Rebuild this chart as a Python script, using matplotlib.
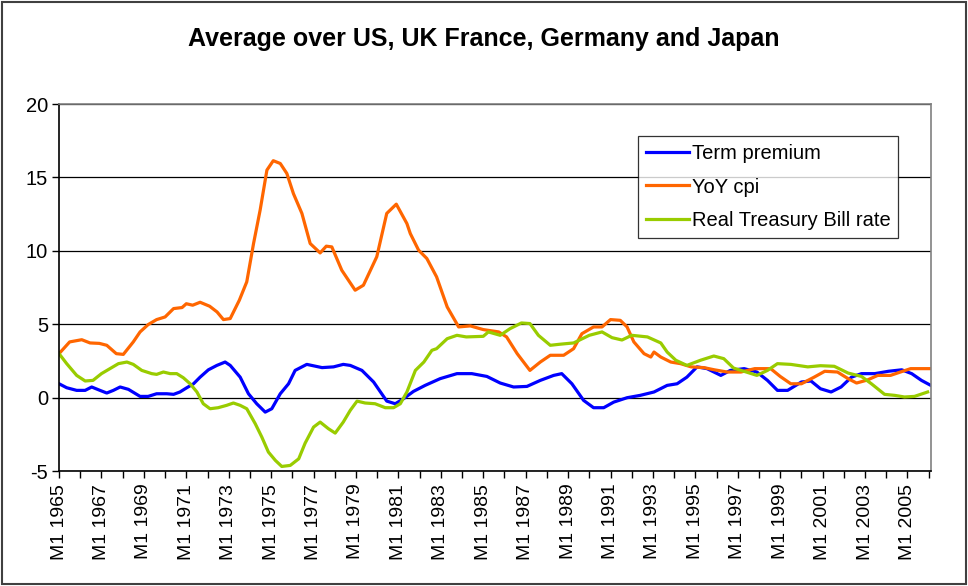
import numpy as np
import matplotlib.pyplot as plt
from matplotlib.patches import Rectangle

plt.rcParams['font.family'] = ['Liberation Sans', 'DejaVu Sans']
plt.rcParams['axes.unicode_minus'] = False

# values (decimal years)
cpi_t = [1965.0, 1965.5, 1966.07, 1966.46, 1966.9, 1967.25, 1967.7, 1968.03, 1968.5, 1968.82,
         1969.2, 1969.6, 1970.0, 1970.4, 1970.8, 1971.0, 1971.3, 1971.65, 1972.1, 1972.45,
         1972.75, 1973.07, 1973.5, 1973.85, 1974.17, 1974.48, 1974.8, 1975.1, 1975.43, 1975.74,
         1976.05, 1976.45, 1976.84, 1977.31, 1977.6, 1977.86, 1978.33, 1978.96, 1979.35, 1979.98,
         1980.45, 1980.9, 1981.4, 1981.56, 1981.95, 1982.34, 1982.8, 1983.3, 1983.84, 1984.39,
         1985.0, 1985.73, 1986.1, 1986.6, 1987.2, 1987.69, 1988.16, 1988.79, 1989.26, 1989.65,
         1990.2, 1990.6, 1991.0, 1991.46, 1991.78, 1992.1, 1992.58, 1992.9, 1993.05, 1993.37,
         1993.84, 1994.3, 1994.8, 1995.4, 1995.9, 1996.5, 1997.15, 1997.8, 1998.55, 1999.0,
         1999.5, 2000.0, 2000.6, 2001.1, 2001.7, 2002.2, 2002.6, 2003.1, 2003.6, 2004.2,
         2004.67, 2005.15, 2005.6, 2006.08]
cpi = [3.0, 3.8, 3.95, 3.73, 3.7, 3.57, 3.0, 2.95, 3.8, 4.48,
       4.98, 5.32, 5.5, 6.07, 6.14, 6.4, 6.3, 6.5, 6.23, 5.84,
       5.32, 5.39, 6.64, 7.89, 10.5, 12.77, 15.5, 16.14, 15.95, 15.27,
       13.9, 12.55, 10.5, 9.86, 10.32, 10.27, 8.68, 7.32, 7.66, 9.6,
       12.55, 13.18, 11.86, 11.18, 10.05, 9.48, 8.23, 6.18, 4.82, 4.89,
       4.64, 4.48, 4.14, 3.0, 1.86, 2.43, 2.89, 2.89, 3.34, 4.36,
       4.82, 4.82, 5.32, 5.27, 4.82, 3.8, 3.0, 2.77, 3.11, 2.77,
       2.43, 2.32, 2.1, 2.05, 1.9, 1.75, 1.75, 1.98, 1.98, 1.45,
       0.95, 0.95, 1.4, 1.8, 1.75, 1.3, 1.0, 1.2, 1.52, 1.52,
       1.75, 1.98, 1.98, 1.98]

term_t = [1965.0, 1965.36, 1965.83, 1966.23, 1966.54, 1966.93, 1967.25, 1967.56, 1967.88, 1968.27,
          1968.82, 1969.2, 1969.6, 1970.08, 1970.4, 1970.7, 1971.0, 1971.34, 1971.65, 1972.04,
          1972.44, 1972.83, 1973.07, 1973.54, 1973.93, 1974.32, 1974.72, 1975.03, 1975.43, 1975.82,
          1976.13, 1976.68, 1977.4, 1977.94, 1978.4, 1978.73, 1979.28, 1979.83, 1980.45, 1980.85,
          1981.24, 1981.71, 1982.26, 1982.97, 1983.76, 1984.46, 1985.17, 1985.8, 1986.43, 1987.06,
          1987.69, 1988.32, 1988.7, 1989.18, 1989.73, 1990.2, 1990.68, 1991.15, 1991.78, 1992.4,
          1993.05, 1993.67, 1994.14, 1994.6, 1995.08, 1995.55, 1996.2, 1996.65, 1997.3, 1997.9,
          1998.4, 1998.87, 1999.35, 2000.0, 2000.45, 2000.9, 2001.4, 2001.87, 2002.36, 2002.83,
          2003.46, 2004.1, 2004.73, 2005.2, 2005.66, 2006.1]
term = [0.95, 0.68, 0.5, 0.5, 0.73, 0.5, 0.32, 0.5, 0.73, 0.57,
        0.09, 0.09, 0.27, 0.27, 0.23, 0.39, 0.66, 0.95, 1.4, 1.9,
        2.2, 2.43, 2.2, 1.4, 0.27, -0.41, -0.98, -0.75, 0.27, 0.95,
        1.86, 2.27, 2.05, 2.1, 2.27, 2.2, 1.86, 1.07, -0.23, -0.41,
        -0.07, 0.43, 0.84, 1.3, 1.64, 1.64, 1.45, 1.0, 0.73, 0.77,
        1.18, 1.52, 1.64, 0.95, -0.18, -0.68, -0.68, -0.3, 0.0, 0.16,
        0.39, 0.84, 0.95, 1.4, 2.1, 1.98, 1.52, 1.86, 1.98, 1.75,
        1.18, 0.5, 0.5, 1.07, 1.14, 0.61, 0.39, 0.73, 1.4, 1.64,
        1.64, 1.8, 1.9, 1.64, 1.18, 0.84]

tbill_t = [1965.0, 1965.36, 1965.83, 1966.23, 1966.6, 1967.0, 1967.4, 1967.8, 1968.2, 1968.5,
           1968.9, 1969.37, 1969.6, 1969.92, 1970.24, 1970.55, 1970.86, 1971.18, 1971.5, 1971.8,
           1972.12, 1972.5, 1972.9, 1973.22, 1973.54, 1973.85, 1974.25, 1974.56, 1974.87, 1975.2,
           1975.5, 1975.9, 1976.3, 1976.6, 1977.0, 1977.31, 1977.7, 1978.02, 1978.4, 1978.73,
           1979.05, 1979.43, 1979.9, 1980.38, 1980.77, 1981.09, 1981.4, 1981.8, 1982.2, 1982.58,
           1982.8, 1983.3, 1983.76, 1984.2, 1985.0, 1985.24, 1985.8, 1986.26, 1986.8, 1987.2,
           1987.6, 1988.16, 1988.6, 1989.26, 1990.0, 1990.6, 1991.07, 1991.54, 1992.0, 1992.74,
           1993.37, 1993.67, 1994.08, 1994.6, 1995.24, 1995.87, 1996.34, 1996.8, 1997.4, 1997.9,
           1998.4, 1998.87, 1999.5, 2000.3, 2000.9, 2001.55, 2002.2, 2002.83, 2003.3, 2003.92,
           2004.4, 2004.86, 2005.33, 2005.95]
tbill = [3.0, 2.32, 1.52, 1.14, 1.18, 1.64, 1.98, 2.32, 2.43, 2.27,
         1.86, 1.64, 1.59, 1.75, 1.64, 1.64, 1.36, 0.95, 0.39, -0.41,
         -0.75, -0.68, -0.52, -0.36, -0.52, -0.75, -1.77, -2.68, -3.7, -4.27,
         -4.68, -4.61, -4.16, -3.1, -2.0, -1.66, -2.11, -2.41, -1.66, -0.86,
         -0.23, -0.36, -0.41, -0.68, -0.68, -0.41, 0.39, 1.86, 2.43, 3.23,
         3.34, 4.02, 4.25, 4.14, 4.18, 4.48, 4.25, 4.7, 5.09, 5.05,
         4.25, 3.57, 3.64, 3.73, 4.25, 4.48, 4.09, 3.93, 4.25, 4.14,
         3.73, 3.11, 2.55, 2.2, 2.55, 2.84, 2.66, 2.02, 1.75, 1.52,
         1.86, 2.32, 2.27, 2.1, 2.18, 2.14, 1.68, 1.45, 0.95, 0.23,
         0.16, 0.05, 0.09, 0.39]

years = list(range(1965, 2007))
label_years = list(range(1965, 2006, 2))

fig = plt.figure(figsize=(9.68, 5.86), dpi=100)
ax = fig.add_axes([0.061, 0.196, 0.901, 0.6265])

ax.plot(term_t, term, color='#0000FF', lw=2.3, label='Term premium')
ax.plot(cpi_t, cpi, color='#FF6600', lw=2.3, label='YoY cpi')
ax.plot(tbill_t, tbill, color='#99CC00', lw=2.3, label='Real Treasury Bill rate')

ax.set_xlim(1965.0, 2006.12)
ax.set_ylim(-5, 20)
ax.set_yticks([-5, 0, 5, 10, 15, 20])
ax.set_xticks(years)
ax.set_xticklabels(['M1 %d' % y if y in label_years else '' for y in years],
                   rotation=90, fontsize=14)
ax.tick_params(axis='y', labelsize=14.5, length=5, width=1, direction='out', pad=3)
ax.tick_params(axis='x', length=5, width=1, direction='out', pad=4)

ax.grid(axis='y', color='black', lw=0.9)
ax.set_axisbelow(True)
for s in ['top', 'right']:
    ax.spines[s].set_color('#808080')
    ax.spines[s].set_linewidth(1.2)
for s in ['left', 'bottom']:
    ax.spines[s].set_color('black')
    ax.spines[s].set_linewidth(1.2)

fig.text(0.5, 0.933, 'Average over US, UK France, Germany and Japan',
         ha='center', va='center', fontsize=18, fontweight='bold')

leg = ax.legend(loc='upper left', bbox_to_anchor=(0.664, 0.913), fontsize=14.5,
                frameon=True, fancybox=False, edgecolor='black', handlelength=2.1,
                handletextpad=0.15, borderpad=0.4, labelspacing=0.72, borderaxespad=0)
leg.get_frame().set_linewidth(0.9)

fig.patches.append(Rectangle((0.002, 0.003), 0.996, 0.994, transform=fig.transFigure,
                             fill=False, edgecolor='#404040', lw=1.5))

fig.savefig('out.png', dpi=100)
